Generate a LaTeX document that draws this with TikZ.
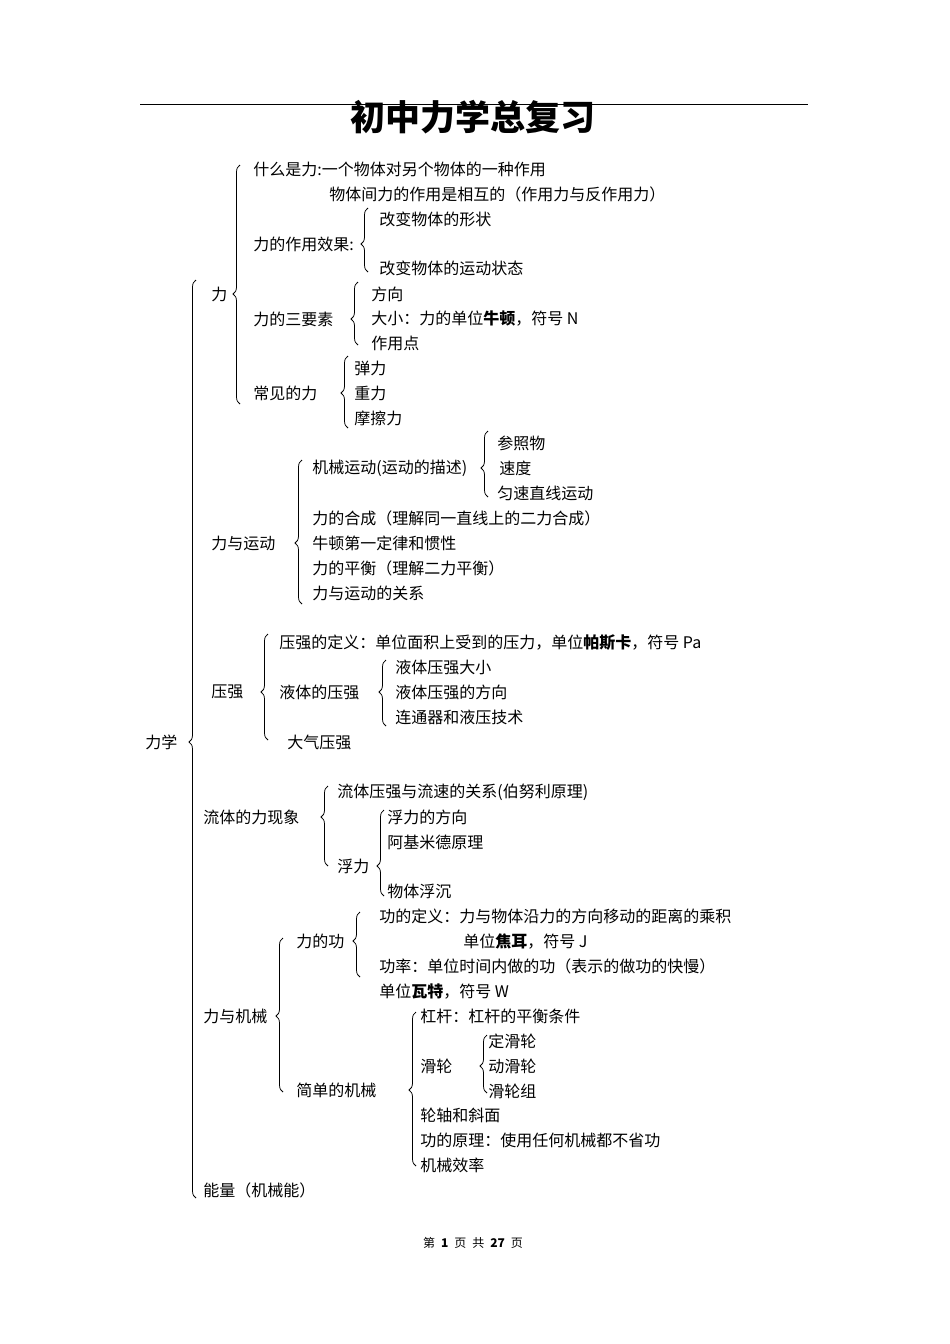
\documentclass[tikz,border=0pt]{standalone}
\usepackage{fontspec}
\setmainfont{Noto Sans CJK SC}
\usetikzlibrary{decorations.pathreplacing}
\newcommand{\mybr}[4]{%
 \pgfmathsetmacro{\asp}{(#4-#3)/(#4-#2)}%
 \draw[decorate,decoration={brace,amplitude=7pt,aspect=\asp}] (#1,#4) -- (#1,#2);}
\begin{document}
\begin{tikzpicture}[x=1pt,y=-1pt,line width=0.75pt,
  t/.style={anchor=west,inner sep=0pt,font=\fontsize{16}{18}\selectfont}]
\useasboundingbox (0,0) rectangle (950,1344);
\draw[line width=0.8pt] (140,104) -- (808,104);
\node[font=\fontsize{35}{38}\selectfont\bfseries] (title) at (473,117) {初中力学总复习};
\node[t] (a1) at (253,169) {什么是力:一个物体对另个物体的一种作用};
\node[t] (a2) at (329,194) {物体间力的作用是相互的（作用力与反作用力）};
\node[t] (a3) at (253,244) {力的作用效果:};
\node[t] (a4) at (379,219) {改变物体的形状};
\node[t] (a5) at (379,268) {改变物体的运动状态};
\mybr{368}{208}{244}{272}
\node[t] (li) at (211,294) {力};
\mybr{240}{165}{294}{404}
\node[t] (a6) at (253,319) {力的三要素};
\node[t] (a7) at (371,294) {方向};
\node[t] (a8) at (371,319) {大小：力的单位\textbf{牛顿}，符号 N};
\node[t] (a9) at (371,343) {作用点};
\mybr{358}{282}{319}{345}
\node[t] (b1) at (253,393) {常见的力};
\node[t] (b2) at (354,368) {弹力};
\node[t] (b3) at (354,393) {重力};
\node[t] (b4) at (354,418) {摩擦力};
\mybr{348}{356}{393}{428}
\node[t] (c1) at (312,468) {机械运动(运动的描述)};
\node[t] (c2) at (497,443) {参照物};
\node[t] (c3) at (499,468) {速度};
\node[t] (c4) at (497,493) {匀速直线运动};
\mybr{488}{431}{468}{497}
\node[t] (c5) at (312,518) {力的合成（理解同一直线上的二力合成）};
\node[t] (c6) at (312,543) {牛顿第一定律和惯性};
\node[t] (c7) at (312,568) {力的平衡（理解二力平衡）};
\node[t] (c8) at (312,593) {力与运动的关系};
\node[t] (c0) at (211,543) {力与运动};
\mybr{302}{460}{543}{604}
\node[t] (d1) at (279,643) {压强的定义：单位面积上受到的压力，单位\textbf{帕斯卡}，符号 Pa};
\node[t] (d2) at (279,692) {液体的压强};
\node[t] (d3) at (395,667) {液体压强大小};
\node[t] (d4) at (395,692) {液体压强的方向};
\node[t] (d5) at (395,717) {连通器和液压技术};
\mybr{386}{660}{692}{726}
\node[t] (d6) at (287,742) {大气压强};
\node[t] (d0) at (211,692) {压强};
\mybr{268}{634}{692}{740}
\node[t] (root) at (145,742) {力学};
\mybr{196}{280}{742}{1198}
\node[t] (e1) at (337,792) {流体压强与流速的关系(伯努利原理)};
\node[t] (e0) at (203,817) {流体的力现象};
\mybr{328}{786}{817}{866}
\node[t] (e2) at (337,866) {浮力};
\node[t] (e3) at (387,817) {浮力的方向};
\node[t] (e4) at (387,842) {阿基米德原理};
\node[t] (e5) at (387,891) {物体浮沉};
\mybr{384}{810}{866}{896}
\node[t] (f1) at (379,916) {功的定义：力与物体沿力的方向移动的距离的乘积};
\node[t] (f2) at (463,941) {单位\textbf{焦耳}，符号 J};
\node[t] (f3) at (379,966) {功率：单位时间内做的功（表示的做功的快慢）};
\node[t] (f4) at (379,991) {单位\textbf{瓦特}，符号 W};
\node[t] (f0) at (296,941) {力的功};
\mybr{360}{912}{941}{977}
\node[t] (g0) at (203,1016) {力与机械};
\mybr{283}{938}{1016}{1092}
\node[t] (g1) at (296,1090) {简单的机械};
\mybr{416}{1012}{1090}{1166}
\node[t] (h1) at (420,1016) {杠杆：杠杆的平衡条件};
\node[t] (h2) at (420,1066) {滑轮};
\node[t] (h3) at (488,1041) {定滑轮};
\node[t] (h4) at (488,1066) {动滑轮};
\node[t] (h5) at (488,1091) {滑轮组};
\mybr{487}{1035}{1066}{1093}
\node[t] (h6) at (420,1115) {轮轴和斜面};
\node[t] (h7) at (420,1140) {功的原理：使用任何机械都不省功};
\node[t] (h8) at (420,1165) {机械效率};
\node[t] (k1) at (203,1190) {能量（机械能）};
\node[font=\fontsize{12}{14}\selectfont] (pg) at (473,1243) {第\enspace\textbf{1}\enspace 页\enspace 共\enspace\textbf{27}\enspace 页};
\end{tikzpicture}
\end{document}
